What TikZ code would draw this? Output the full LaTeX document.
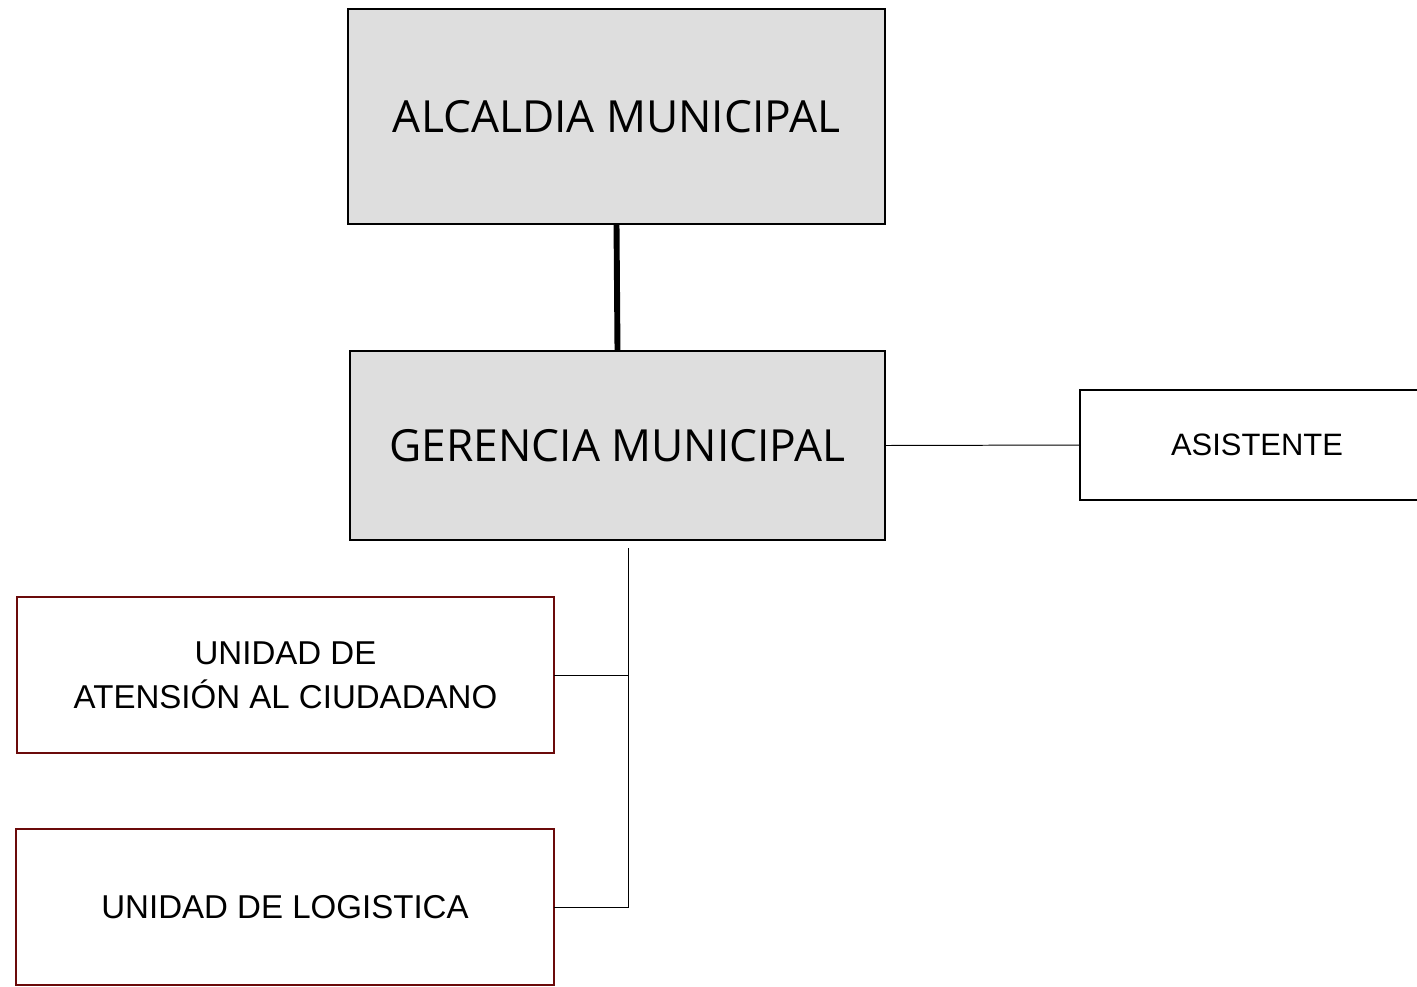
\documentclass[tikz,border=0pt]{standalone}
\usepackage{fontspec}
\setmainfont{Liberation Sans}
\newfontfamily\headfont{Open Sans}
\definecolor{headgray}{HTML}{DEDEDE}
\definecolor{unitred}{HTML}{6B0A0A}
\tikzset{
  headbox/.style={draw, line width=1.4pt, fill=headgray, inner sep=0pt,
    outer sep=0pt, font=\headfont\fontsize{31.5}{38}\selectfont},
  sidebox/.style={draw, line width=1.4pt, fill=white, inner sep=0pt,
    outer sep=0pt, font=\fontsize{22}{30}\selectfont},
  unitbox/.style={draw=unitred, line width=1.4pt, fill=white, inner sep=0pt,
    outer sep=0pt, align=center, font=\fontsize{23.5}{31}\selectfont},
  thinline/.style={line width=0.7pt},
  thickline/.style={line width=4.2pt}
}

\begin{document}
\begin{tikzpicture}[x=0.025cm, y=-0.025cm]
  \useasboundingbox (0,0) rectangle (1417,986);
  % main line
  \node[headbox, minimum width=13.43cm, minimum height=5.38cm]
    (alcaldia) at (616.5,116.5) {ALCALDIA MUNICIPAL};
  \node[headbox, minimum width=13.38cm, minimum height=4.73cm]
    (gerencia) at (617.5,445.5) {GERENCIA MUNICIPAL};
  \draw[thickline] (alcaldia.south) -- (gerencia.north);
  %
  \node[sidebox, minimum width=8.85cm, minimum height=2.75cm]
    (asistente) at (1257,445) {ASISTENTE};
  \draw[thinline] (gerencia.east) -- (asistente.west);
  %
  \node[unitbox, minimum width=13.43cm, minimum height=3.9cm]
    (atencion) at (285.5,675) {UNIDAD DE\\ATENSIÓN AL CIUDADANO};
  \node[unitbox, minimum width=13.45cm, minimum height=3.9cm]
    (logistica) at (285,907) {UNIDAD DE LOGISTICA};
  \coordinate (bus) at (628,548);
  \draw[thinline] (bus) |- (atencion.east);
  \draw[thinline] (bus) |- (logistica.east);
\end{tikzpicture}
\end{document}
